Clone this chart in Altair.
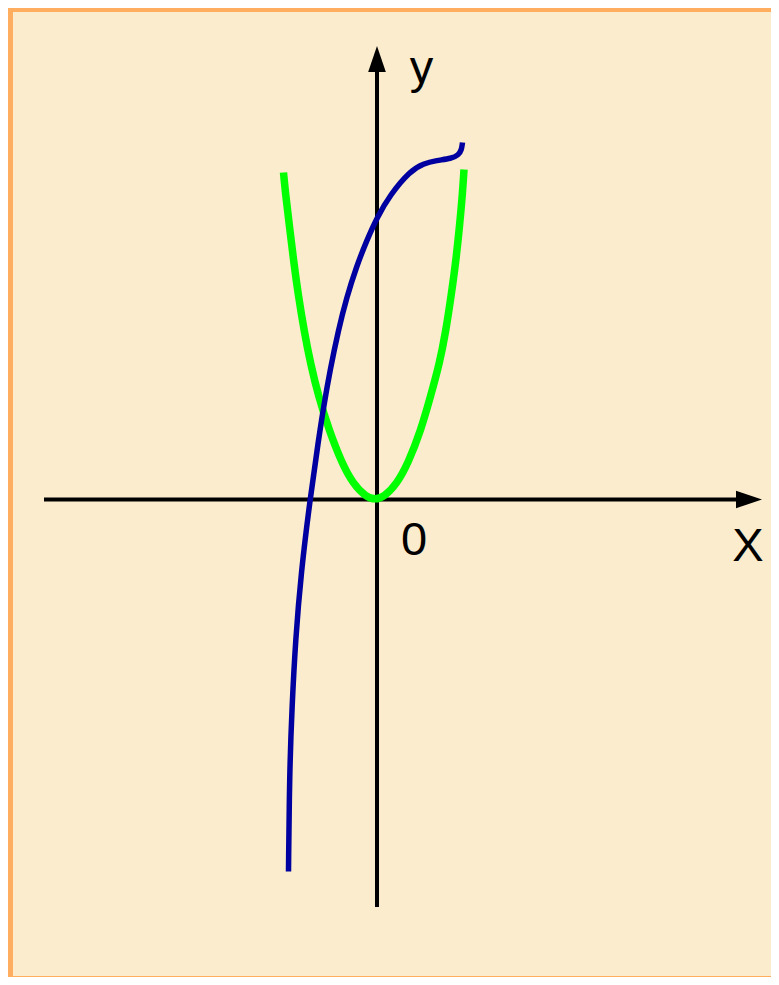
import altair as alt
import pandas as pd

# ---- data (units, origin at the axes crossing) ----
blue_x = [-1.77, -1.75, -1.70, -1.63, -1.52, -1.34, -1.17, -1.07, -0.94, -0.77, -0.61, -0.41,
          -0.21, 0.0, 0.26, 0.66, 0.93, 1.19, 1.49, 1.63, 1.69, 1.71]
blue_y = [-7.44, -5.47, -4.14, -2.81, -1.47, 0.0, 1.19, 1.84, 2.58, 3.40, 4.03, 4.66,
          5.17, 5.64, 6.09, 6.57, 6.72, 6.78, 6.82, 6.89, 6.99, 7.14]

green_x = [-1.87, -1.83, -1.75, -1.67, -1.58, -1.45, -1.33, -1.17, -0.96, -0.70, -0.48, -0.23,
           -0.04, 0.15, 0.40, 0.62, 0.88, 1.07, 1.25, 1.37, 1.49, 1.58, 1.65, 1.71, 1.74]
green_y = [6.54, 6.12, 5.46, 4.79, 4.12, 3.33, 2.72, 2.06, 1.39, 0.72, 0.32, 0.06,
           -0.01, 0.06, 0.32, 0.72, 1.39, 2.06, 2.72, 3.33, 4.12, 4.79, 5.46, 6.12, 6.60]

axis_names = ["x-axis", "y-axis"]
axis_x = [-6.66, 0.0]
axis_x2 = [7.30, 0.0]
axis_y = [0.0, -8.15]
axis_y2 = [0.0, 8.60]

arrow_x_pos = [7.44]
arrow_x_y = [0.0]
arrow_y_x = [0.0]
arrow_y_pos = [8.81]

label_text = ["y", "X", "0"]
label_x = [0.89, 7.42, 0.74]
label_y = [8.33, -1.23, -1.11]

# ---- styles ----
CREAM = "#FAECCC"
ORANGE = "#FFAD5E"
BLUE = "#0000A0"
GREEN = "#00FF00"
FONT = "Liberation Sans"

W, H = 758, 964
XDOM = [-7.28, 7.88]
YDOM = [-9.53, 9.75]

xs = alt.Scale(domain=XDOM, nice=False, zero=False)
ys = alt.Scale(domain=YDOM, nice=False, zero=False)

blue_df = pd.DataFrame({"x": blue_x, "y": blue_y, "i": list(range(len(blue_x)))})
green_df = pd.DataFrame({"x": green_x, "y": green_y, "i": list(range(len(green_x)))})
axes_df = pd.DataFrame({"name": axis_names, "x": axis_x, "x2": axis_x2, "y": axis_y, "y2": axis_y2})
ax_arrow_df = pd.DataFrame({"x": arrow_x_pos, "y": arrow_x_y})
ay_arrow_df = pd.DataFrame({"x": arrow_y_x, "y": arrow_y_pos})
labels_df = pd.DataFrame({"t": label_text, "x": label_x, "y": label_y})

axes = alt.Chart(axes_df).mark_rule(color="black", strokeWidth=4).encode(
    x=alt.X("x:Q", scale=xs, axis=None),
    x2="x2:Q",
    y=alt.Y("y:Q", scale=ys, axis=None),
    y2="y2:Q",
)

arrow_x = alt.Chart(ax_arrow_df).mark_point(
    shape="M1,0L-1,0.68L-1,-0.68Z", size=676, filled=True, color="black", opacity=1, strokeWidth=0
).encode(x=alt.X("x:Q", scale=xs, axis=None), y=alt.Y("y:Q", scale=ys, axis=None))

arrow_y = alt.Chart(ay_arrow_df).mark_point(
    shape="M0,-1L0.68,1L-0.68,1Z", size=676, filled=True, color="black", opacity=1, strokeWidth=0
).encode(x=alt.X("x:Q", scale=xs, axis=None), y=alt.Y("y:Q", scale=ys, axis=None))

green = alt.Chart(green_df).mark_line(
    color=GREEN, strokeWidth=7.5, interpolate="basis", strokeCap="butt"
).encode(
    x=alt.X("x:Q", scale=xs, axis=None),
    y=alt.Y("y:Q", scale=ys, axis=None),
    order="i:Q",
)

blue = alt.Chart(blue_df).mark_line(
    color=BLUE, strokeWidth=5.5, interpolate="basis", strokeCap="butt"
).encode(
    x=alt.X("x:Q", scale=xs, axis=None),
    y=alt.Y("y:Q", scale=ys, axis=None),
    order="i:Q",
)

labels = alt.Chart(labels_df).mark_text(
    font=FONT, fontSize=47, align="center", baseline="alphabetic", color="black"
).encode(
    x=alt.X("x:Q", scale=xs, axis=None),
    y=alt.Y("y:Q", scale=ys, axis=None),
    text="t:N",
)

chart = alt.layer(axes, green, blue, arrow_x, arrow_y, labels).properties(
    width=W,
    height=H,
    background=ORANGE,
    padding={"left": 5, "top": 4, "right": 0, "bottom": 1},
    autosize=alt.AutoSizeParams(type="none"),
).configure_view(fill=CREAM, strokeWidth=0)

chart.save("out.html", embed_options={"renderer": "svg", "actions": False})
